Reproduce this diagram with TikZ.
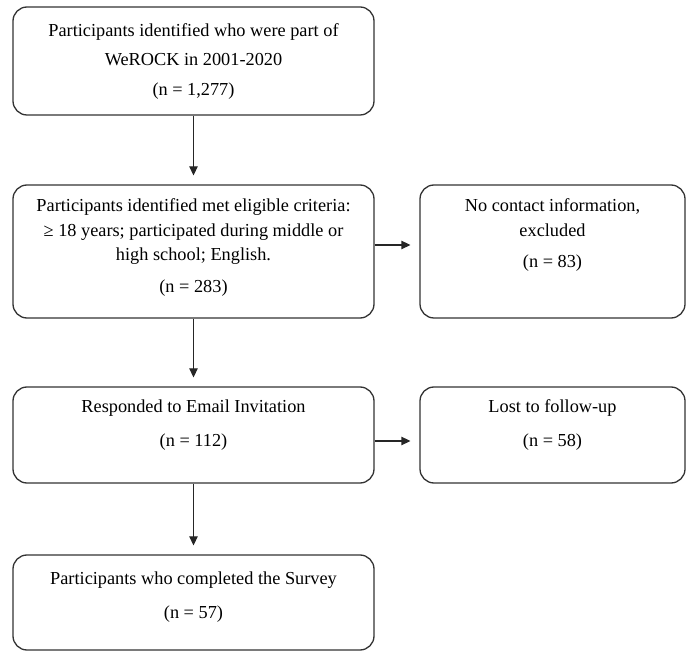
\documentclass[tikz,border=0pt]{standalone}
\usepackage{fontspec}
\setmainfont{Liberation Serif}
\usetikzlibrary{arrows.meta}
\def\boxtext(#1,#2,#3)#4{\parbox[c][#1pt][t]{#2pt}{\centering\rule{0pt}{#3pt}#4}}

\begin{document}
\begin{tikzpicture}[x=1pt, y=-1pt,
	flowbox/.style={draw=black!80, line width=1.3pt, rounded corners=14pt, inner sep=0pt, font=\fontsize{18.3}{24.5}\selectfont},
	flowarrow/.style={draw=black!85, line width=1.3pt, -{Triangle[length=9pt,width=8.5pt]}, shorten >=9pt}]
			%%%%% START %%%%%
			
			\useasboundingbox (0,0) rectangle (689,652);
			
			\node[flowbox, font=\fontsize{18.3}{29}\selectfont] (ident) at (193.5,61) {\boxtext(108,361,30){Participants identified who were part of\\WeROCK in 2001-2020\\[1pt](n = 1,277)}};
			
			\node[flowbox] (elig) at (193.5,251.5) {\boxtext(133,361,27){Participants identified met eligible criteria:\\≥ 18 years; participated during middle or\\high school; English.\\[7.5pt](n = 283)}};
			\node[flowbox] (nocontact) at (552.5,251.5) {\boxtext(133,265,27){No contact information,\\excluded\\[7pt](n = 83)}};
			
			\node[flowbox] (responded) at (193.5,435) {\boxtext(96,361,26){Responded to Email Invitation\\[9.5pt](n = 112)}};
			\node[flowbox] (lost) at (552.5,435) {\boxtext(96,265,26){Lost to follow-up\\[9.5pt](n = 58)}};
			
			\node[flowbox] (completed) at (193.5,602.5) {\boxtext(95,361,29){Participants who completed the Survey\\[10.5pt](n = 57)}};
			
			\draw[flowarrow] (ident) -- (elig);
			\draw[flowarrow] (elig) -- (responded);
			\draw[flowarrow] (responded) -- (completed);
			\draw[flowarrow] ([yshift=6.5pt]elig.east) -- ([yshift=6.5pt]nocontact.west);
			\draw[flowarrow] ([yshift=-6pt]responded.east) -- ([yshift=-6pt]lost.west);
			
			%%%%% END %%%%%
\end{tikzpicture}
\end{document}
